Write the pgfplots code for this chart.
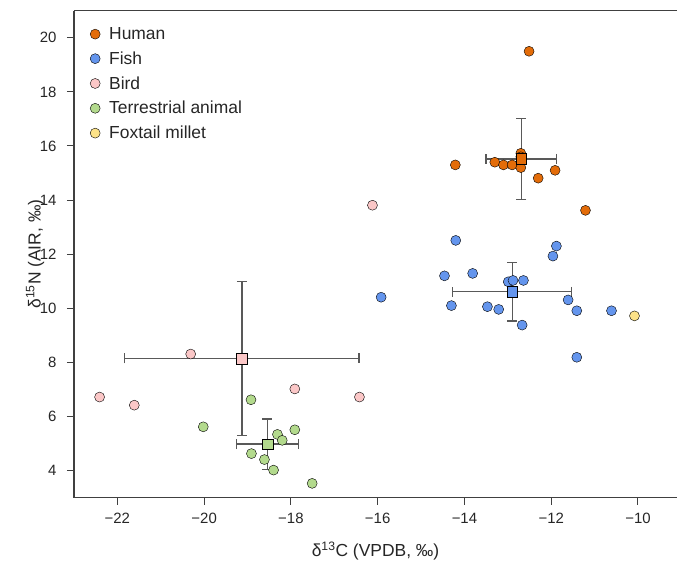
\documentclass[border=0pt]{standalone}
\usepackage{pgfplots}
\pgfplotsset{compat=1.18}
\usepackage{fontspec}
\setmainfont{Liberation Sans}

\definecolor{human}{HTML}{E36C09}
\definecolor{fish}{HTML}{6495ED}
\definecolor{bird}{HTML}{FBC7C7}
\definecolor{terr}{HTML}{B3DA8D}
\definecolor{millet}{HTML}{FCE288}
\definecolor{axgray}{HTML}{404040}

\begin{document}
\begin{tikzpicture}
\begin{axis}[
  scale only axis, width=603bp, height=487bp,
  xmin=-23, xmax=-9.1, ymin=3, ymax=21,
  axis x line*=box, axis y line*=left,
  xtick pos=left, ytick pos=left,
  xtick={-22,-20,-18,-16,-14,-12,-10},
  xticklabels={−22,−20,−18,−16,−14,−12,−10},
  ytick={4,6,8,10,12,14,16,18,20},
  yticklabels={4,6,8,10,12,14,16,18,20},
  tick align=outside, major tick length=7bp,
  axis line style={line width=1.1bp, axgray},
  tick style={line width=1bp, axgray},
  ticklabel style={font=\fontsize{15}{17}\selectfont, text=black!85},
  xticklabel style={yshift=-5bp},
  yticklabel style={xshift=-7bp},
  label style={font=\fontsize{17.5}{19}\selectfont, text=black!85},
  xlabel={δ\textsuperscript{13}C (VPDB, ‰)},
  ylabel={δ\textsuperscript{15}N (AIR, ‰)},
  x label style={at={(axis description cs:0.5,0)}, anchor=center, yshift=-53bp},
  y label style={at={(axis description cs:-0.0647,0.5)}, anchor=center},
  only marks,
  mark options={draw=black, line width=0.7bp},
  legend style={draw=none, fill=none, at={(axis description cs:0,1)}, anchor=north west,
    xshift=13bp, yshift=-13.5bp, font=\fontsize{17.5}{19}\selectfont, row sep=8.7bp,
    nodes={inner sep=1bp, text=black!85},
    /tikz/every odd column/.append style={column sep=8bp}},
  legend cell align=left,
  legend image code/.code={\draw[#1, mark size=5bp] plot coordinates {(0bp,0bp)};},
]
% Human
\addplot[mark=*, mark size=5bp, mark options={fill=human}] coordinates {
(-12.51,19.50) (-14.21,15.30) (-13.30,15.40) (-13.10,15.30) (-12.90,15.30)
(-12.70,15.73) (-12.70,15.60) (-12.70,15.20) (-12.30,14.81) (-11.91,15.10)
(-11.21,13.62)};
\addlegendentry{Human}
% Fish
\addplot[mark=*, mark size=5bp, mark options={fill=fish}] coordinates {
(-14.20,12.51) (-11.88,12.30) (-11.96,11.93) (-14.46,11.20) (-13.81,11.29)
(-12.99,10.98) (-12.88,11.03) (-12.64,11.03) (-15.92,10.41) (-14.30,10.10)
(-13.47,10.06) (-13.21,9.96) (-11.61,10.31) (-11.41,9.91) (-10.61,9.91)
(-12.67,9.38) (-11.41,8.19)};
\addlegendentry{Fish}
% Bird
\addplot[mark=*, mark size=5bp, mark options={fill=bird}] coordinates {
(-22.41,6.72) (-21.61,6.42) (-20.31,8.31) (-17.91,7.02) (-16.42,6.72)
(-16.12,13.81)};
\addlegendentry{Bird}
% Terrestrial animal
\addplot[mark=*, mark size=5bp, mark options={fill=terr}] coordinates {
(-20.02,5.62) (-18.92,6.62) (-17.91,5.51) (-18.31,5.34) (-18.20,5.12)
(-18.91,4.63) (-18.61,4.41) (-18.40,4.02) (-17.51,3.53)};
\addlegendentry{Terrestrial animal}
% Foxtail millet
\addplot[mark=*, mark size=5bp, mark options={fill=millet}] coordinates {
(-10.08,9.72)};
\addlegendentry{Foxtail millet}

% group means with standard deviations
\pgfplotsset{meanbar/.style={mark=square*, mark size=5.4bp,
  error bars/.cd, x dir=both, x explicit, y dir=both, y explicit,
  error bar style={line width=1.3bp, black!65},
  error mark options={rotate=90, line width=1.3bp, black!65, mark size=5bp}}}
\addplot[forget plot, mark options={fill=human}, meanbar] coordinates {(-12.69,15.52) +- (0.81,1.50)};
\addplot[forget plot, mark options={fill=fish}, meanbar] coordinates {(-12.90,10.61) +- (1.37,1.08)};
\addplot[forget plot, mark options={fill=bird}, meanbar] coordinates {(-19.13,8.15) +- (2.70,2.84)};
\addplot[forget plot, mark options={fill=terr}, meanbar] coordinates {(-18.54,4.98) +- (0.71,0.93)};
\end{axis}
\pgfresetboundingbox
\path[use as bounding box] (-74bp,-64.3bp) rectangle (603bp,497.7bp);
\end{tikzpicture}
\end{document}
